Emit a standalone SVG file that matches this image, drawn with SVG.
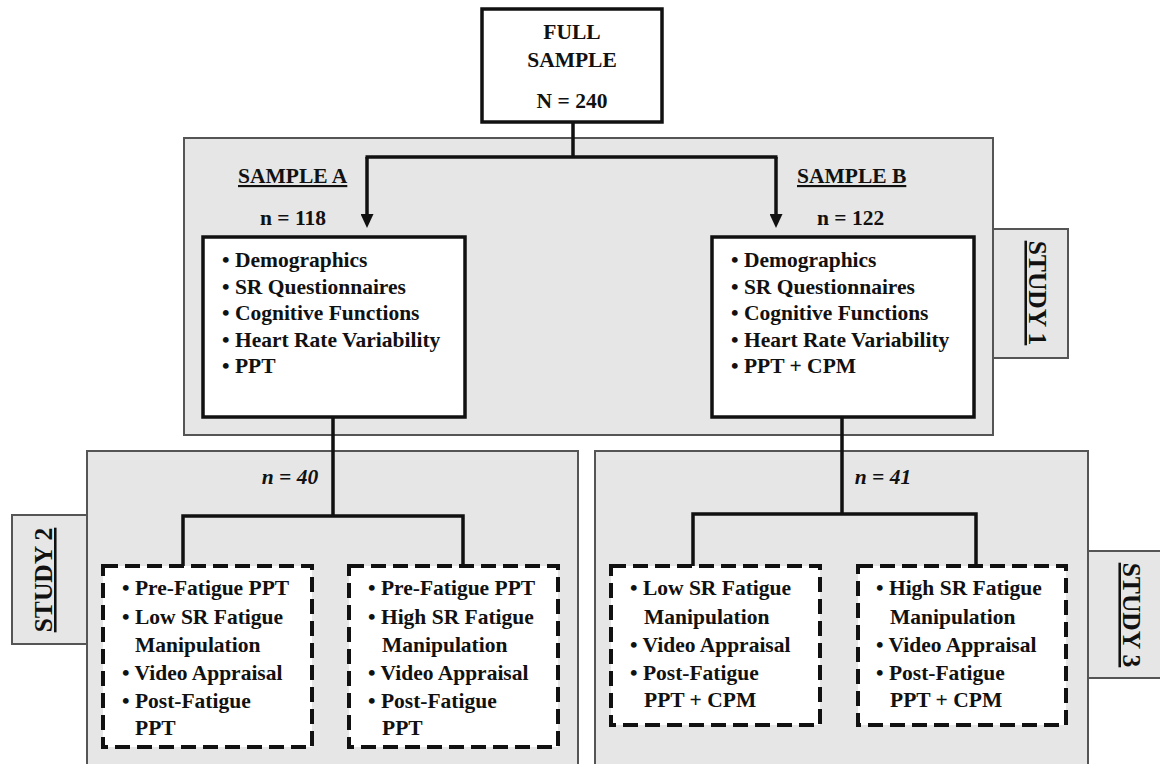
<svg xmlns="http://www.w3.org/2000/svg" width="1160" height="764" viewBox="0 0 1160 764">
<style>
.bg{fill:#e6e6e6;stroke:#555;stroke-width:2}
.box{fill:#fff;stroke:#111;stroke-width:3.5}
.dbox{fill:#fff;stroke:#111;stroke-width:4;stroke-dasharray:15 7}
.t{font-family:"Liberation Serif","Times New Roman",serif;font-weight:bold;font-size:21.5px;fill:#111}
.c{text-anchor:middle}
.it{font-style:italic}
.u{text-decoration:underline}
.st{font-family:"Liberation Serif","Times New Roman",serif;font-weight:bold;font-size:25.5px;fill:#111;text-anchor:middle;text-decoration:underline}
.con{fill:none;stroke:#111;stroke-width:3.5}
</style>
<defs>
<marker id="arr" markerUnits="userSpaceOnUse" markerWidth="14" markerHeight="13" refX="1" refY="6.5" orient="auto">
<path d="M0,0 L14,6.5 L0,13 z" fill="#111"/>
</marker>
</defs>
<rect width="1160" height="764" fill="#fff"/>

<g id="study1">
<rect class="bg" x="993" y="229" width="75" height="129"/>
<rect class="bg" x="184" y="138" width="809" height="297"/>
<text class="st" transform="translate(1029,293) rotate(90)">STUDY 1</text>
</g>
<g id="study2">
<rect class="bg" x="12" y="515" width="76" height="129"/>
<rect class="bg" x="87" y="451" width="491" height="320"/>
<text class="st" transform="translate(52,580) rotate(-90)">STUDY 2</text>
</g>
<g id="study3">
<rect class="bg" x="1088" y="551" width="80" height="127"/>
<rect class="bg" x="595" y="451" width="493" height="320"/>
<text class="st" transform="translate(1123,615) rotate(90)">STUDY 3</text>
</g>

<g id="connectors">
<path class="con" d="M573,122 V157 M365.5,157 H777.5"/>
<path class="con" d="M367,157 V215" marker-end="url(#arr)"/>
<path class="con" d="M776,157 V215" marker-end="url(#arr)"/>
<path class="con" d="M183,566 V516 H463 V566 M333,417 V516"/>
<path class="con" d="M693,566 V514 H976 V566 M842,417 V514"/>
</g>

<g id="full-sample">
<rect class="box" x="482" y="9" width="180" height="113"/>
<text class="t c" x="572" y="39">FULL</text>
<text class="t c" x="572" y="67">SAMPLE</text>
<text class="t c" x="572" y="108">N = 240</text>
</g>

<g id="sample-a">
<text class="t u" x="238" y="183">SAMPLE A</text>
<text class="t" x="260" y="225">n = 118</text>
<rect class="box" x="203" y="237" width="262" height="180"/>
<text class="t" x="222" y="267">• Demographics</text>
<text class="t" x="222" y="293.5">• SR Questionnaires</text>
<text class="t" x="222" y="320">• Cognitive Functions</text>
<text class="t" x="222" y="346.5">• Heart Rate Variability</text>
<text class="t" x="222" y="373">• PPT</text>
</g>

<g id="sample-b">
<text class="t u" x="797" y="183">SAMPLE B</text>
<text class="t" x="817" y="225">n = 122</text>
<rect class="box" x="712" y="237" width="262" height="180"/>
<text class="t" x="731" y="267">• Demographics</text>
<text class="t" x="731" y="293.5">• SR Questionnaires</text>
<text class="t" x="731" y="320">• Cognitive Functions</text>
<text class="t" x="731" y="346.5">• Heart Rate Variability</text>
<text class="t" x="731" y="373">• PPT + CPM</text>
</g>

<text id="n40" class="t it c" x="290" y="484">n = 40</text>
<text id="n41" class="t it c" x="883" y="484">n = 41</text>

<g id="s2-low">
<rect class="dbox" x="103" y="566" width="209" height="181"/>
<text class="t" x="122" y="595">• Pre-Fatigue PPT</text>
<text class="t" x="122" y="623.5">• Low SR Fatigue</text>
<text class="t" x="135" y="652">Manipulation</text>
<text class="t" x="122" y="680">• Video Appraisal</text>
<text class="t" x="122" y="708">• Post-Fatigue</text>
<text class="t" x="135" y="735">PPT</text>
</g>

<g id="s2-high">
<rect class="dbox" x="349" y="566" width="209" height="181"/>
<text class="t" x="368" y="595">• Pre-Fatigue PPT</text>
<text class="t" x="368" y="623.5">• High SR Fatigue</text>
<text class="t" x="382" y="652">Manipulation</text>
<text class="t" x="368" y="680">• Video Appraisal</text>
<text class="t" x="368" y="708">• Post-Fatigue</text>
<text class="t" x="382" y="735">PPT</text>
</g>

<g id="s3-low">
<rect class="dbox" x="611" y="566" width="209" height="159"/>
<text class="t" x="630" y="595">• Low SR Fatigue</text>
<text class="t" x="644" y="623.5">Manipulation</text>
<text class="t" x="630" y="652">• Video Appraisal</text>
<text class="t" x="630" y="680">• Post-Fatigue</text>
<text class="t" x="644" y="707">PPT + CPM</text>
</g>

<g id="s3-high">
<rect class="dbox" x="858" y="566" width="208" height="159"/>
<text class="t" x="876" y="595">• High SR Fatigue</text>
<text class="t" x="890" y="623.5">Manipulation</text>
<text class="t" x="876" y="652">• Video Appraisal</text>
<text class="t" x="876" y="680">• Post-Fatigue</text>
<text class="t" x="890" y="707">PPT + CPM</text>
</g>
</svg>
